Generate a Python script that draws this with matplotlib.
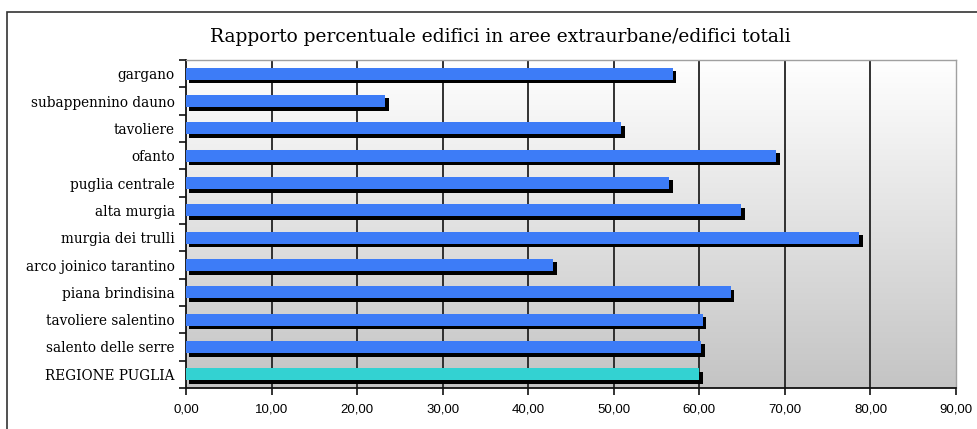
import matplotlib
matplotlib.use("Agg")
import matplotlib.pyplot as plt
import matplotlib.patheffects as pe
from matplotlib.patches import Rectangle
from matplotlib.colors import LinearSegmentedColormap
import numpy as np

categories = ["gargano", "subappennino dauno", "tavoliere", "ofanto", "puglia centrale",
              "alta murgia", "murgia dei trulli", "arco joinico tarantino", "piana brindisina",
              "tavoliere salentino", "salento delle serre", "REGIONE PUGLIA"]
values = [56.9, 23.3, 50.9, 69.0, 56.5, 64.9, 78.7, 42.9, 63.7, 60.4, 60.2, 60.0]
bar_colors = ["#3d7cf7"] * 11 + ["#33d2d2"]
xticks = [0, 10, 20, 30, 40, 50, 60, 70, 80, 90]
xtick_labels = ["0,00", "10,00", "20,00", "30,00", "40,00", "50,00", "60,00", "70,00", "80,00", "90,00"]
title = "Rapporto percentuale edifici in aree extraurbane/edifici totali"

fig = plt.figure(figsize=(9.78, 4.29), dpi=100)
fig.patch.set_facecolor("white")
# outer frame
fig.add_artist(Rectangle((7 / 978, -0.05), 1.05, 1 - 12 / 429 + 0.05, transform=fig.transFigure,
                         fill=False, edgecolor="#333333", linewidth=1.2))

ax = fig.add_axes([186 / 978, 1 - 388 / 429, (956 - 186) / 978, (388 - 60) / 429])
n = len(categories)
ax.set_xlim(0, 90)
ax.set_ylim(n - 0.5, -0.5)

# gradient background
grad = np.linspace(0, 1, 256).reshape(-1, 1)
cmap = LinearSegmentedColormap.from_list("bg", ["#ffffff", "#c4c4c4"])
ax.imshow(grad, aspect="auto", cmap=cmap, extent=[0, 1, 0, 1], transform=ax.transAxes,
          origin="upper", zorder=0)

for x in xticks[1:-1]:
    ax.axvline(x, color="#222222", linewidth=1.3, zorder=1)

y = np.arange(n)
bars = ax.barh(y, values, height=0.45, color=bar_colors, zorder=3)
for b in bars:
    b.set_path_effects([pe.SimplePatchShadow(offset=(2.5, -2.5), shadow_rgbFace="black", alpha=1.0),
                        pe.Normal()])

ax.set_yticks(y)
ax.set_yticklabels(categories, family="DejaVu Serif", fontsize=9.8)
ax.tick_params(axis="y", which="major", length=0, pad=8)
ax.set_yticks(np.arange(-0.5, n, 1), minor=True)
ax.tick_params(axis="y", which="minor", length=5, width=1.2, color="#111111")

ax.set_xticks(xticks)
ax.set_xticklabels(xtick_labels, family="Liberation Sans", fontsize=9.5)
ax.tick_params(axis="x", length=5, width=1.2, color="#111111", pad=6)

for s in ["left", "bottom"]:
    ax.spines[s].set_color("#111111")
    ax.spines[s].set_linewidth(1.3)
for s in ["top", "right"]:
    ax.spines[s].set_color("#a0a0a0")
    ax.spines[s].set_linewidth(1.0)

fig.text(500 / 978, 1 - 37 / 429, title, ha="center", va="center",
         family="DejaVu Serif", fontsize=13.4)

fig.savefig("out.png", dpi=100)
